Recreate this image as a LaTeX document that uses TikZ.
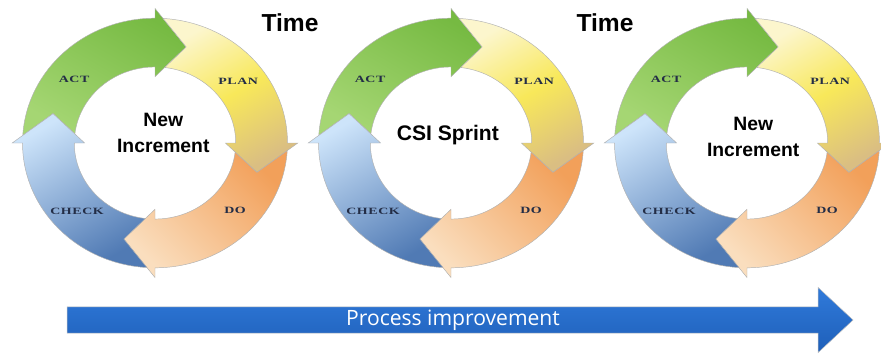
\documentclass[tikz,border=0pt]{standalone}
\usepackage{fontspec}
\setmainfont{Liberation Serif}
\newfontfamily\arialfont{Liberation Sans}
\newfontfamily\stepfont[FakeStretch=1.45,LetterSpace=6]{Liberation Serif}
\newfontfamily\barfont{Open Sans}
\usetikzlibrary{shapes.arrows}

\definecolor{actlight}{RGB}{165,214,115}
\definecolor{actdark}{RGB}{118,186,66}
\definecolor{planpale}{RGB}{252,246,205}
\definecolor{planmid}{RGB}{248,232,90}
\definecolor{plantan}{RGB}{218,190,130}
\definecolor{dopale}{RGB}{250,222,190}
\definecolor{dodeep}{RGB}{242,160,90}
\definecolor{checkpale}{RGB}{205,228,250}
\definecolor{checkdark}{RGB}{80,122,180}
\definecolor{barblue}{RGB}{48,122,218}
\definecolor{bardark}{RGB}{30,95,185}
\definecolor{labelink}{RGB}{35,45,70}

\tikzset{
  arcpiece/.style={draw=black!30, line width=0.4pt},
  actarc/.style={arcpiece, top color=actdark, bottom color=actlight, shading angle=-30},
  planarc/.style={arcpiece, top color=planpale, bottom color=plantan, middle color=planmid, shading angle=30},
  doarc/.style={arcpiece, top color=dodeep, bottom color=dopale, shading angle=-45},
  checkarc/.style={arcpiece, top color=checkpale, bottom color=checkdark, shading angle=30},
  steplabel/.style={inner sep=0pt, text=labelink, font=\stepfont\bfseries\fontsize{8.2}{9}\selectfont},
  corelabel/.style={inner sep=0pt, align=center, font=\arialfont\bfseries\fontsize{16.5}{22}\selectfont},
  timelabel/.style={inner sep=0pt, font=\arialfont\bfseries\fontsize{21}{25}\selectfont},
  procarrow/.style={single arrow, draw=black!25, top color=barblue, bottom color=bardark,
    minimum height=235.8mm, minimum width=19.5mm, single arrow head extend=4.65mm,
    single arrow tip angle=86, inner sep=0pt, text=white, font=\barfont\fontsize{18}{22}\selectfont}
}

\begin{document}
\begin{tikzpicture}[x=0.3mm, y=0.3mm]
\useasboundingbox (0,0) rectangle (881,353);
\def\Rout{128}
\def\Rin{78}
\def\Rmid{103}

% three PDCA wheels
\foreach \cx/\dx/\dy/\core [count=\i] in {155/8/10/{New\\Increment}, 451/-3/8/{\fontsize{18}{22}\selectfont CSI Sprint}, 747/6/6/{New\\Increment}} {
  \begin{scope}[shift={(\cx,210)}, xscale=1.035, yscale=0.975]
    \foreach \a/\sty in {180/actarc, 90/planarc, 0/doarc, -90/checkarc}
      \path[\sty] ({\a-3.5}:\Rout) arc[start angle={\a-3.5}, end angle={\a-90}, radius=\Rout]
        -- ({\a-90}:{\Rout+10}) -- ({\a-107}:\Rmid) -- ({\a-90}:{\Rin-10}) -- ({\a-90}:\Rin)
        arc[start angle={\a-90}, end angle={\a-6.9}, radius=\Rin] -- ({\a-17}:\Rmid) -- cycle;
    \node[steplabel] (act\i) at (140:102) {ACT};
    \node[steplabel] (plan\i) at (38:102) {PLAN};
    \node[steplabel] (do\i) at (-42:104) {DO};
    \node[steplabel] (check\i) at (-137:103) {CHECK};
    \node[corelabel] (core\i) at (\dx,\dy) {\core};
  \end{scope}
}

\node[timelabel] (time1) at (290,330) {Time};
\node[timelabel] (time2) at (605,330) {Time};

% bottom bar
\node[procarrow] (proc) at (453,33) {Process improvement};
\end{tikzpicture}
\end{document}
